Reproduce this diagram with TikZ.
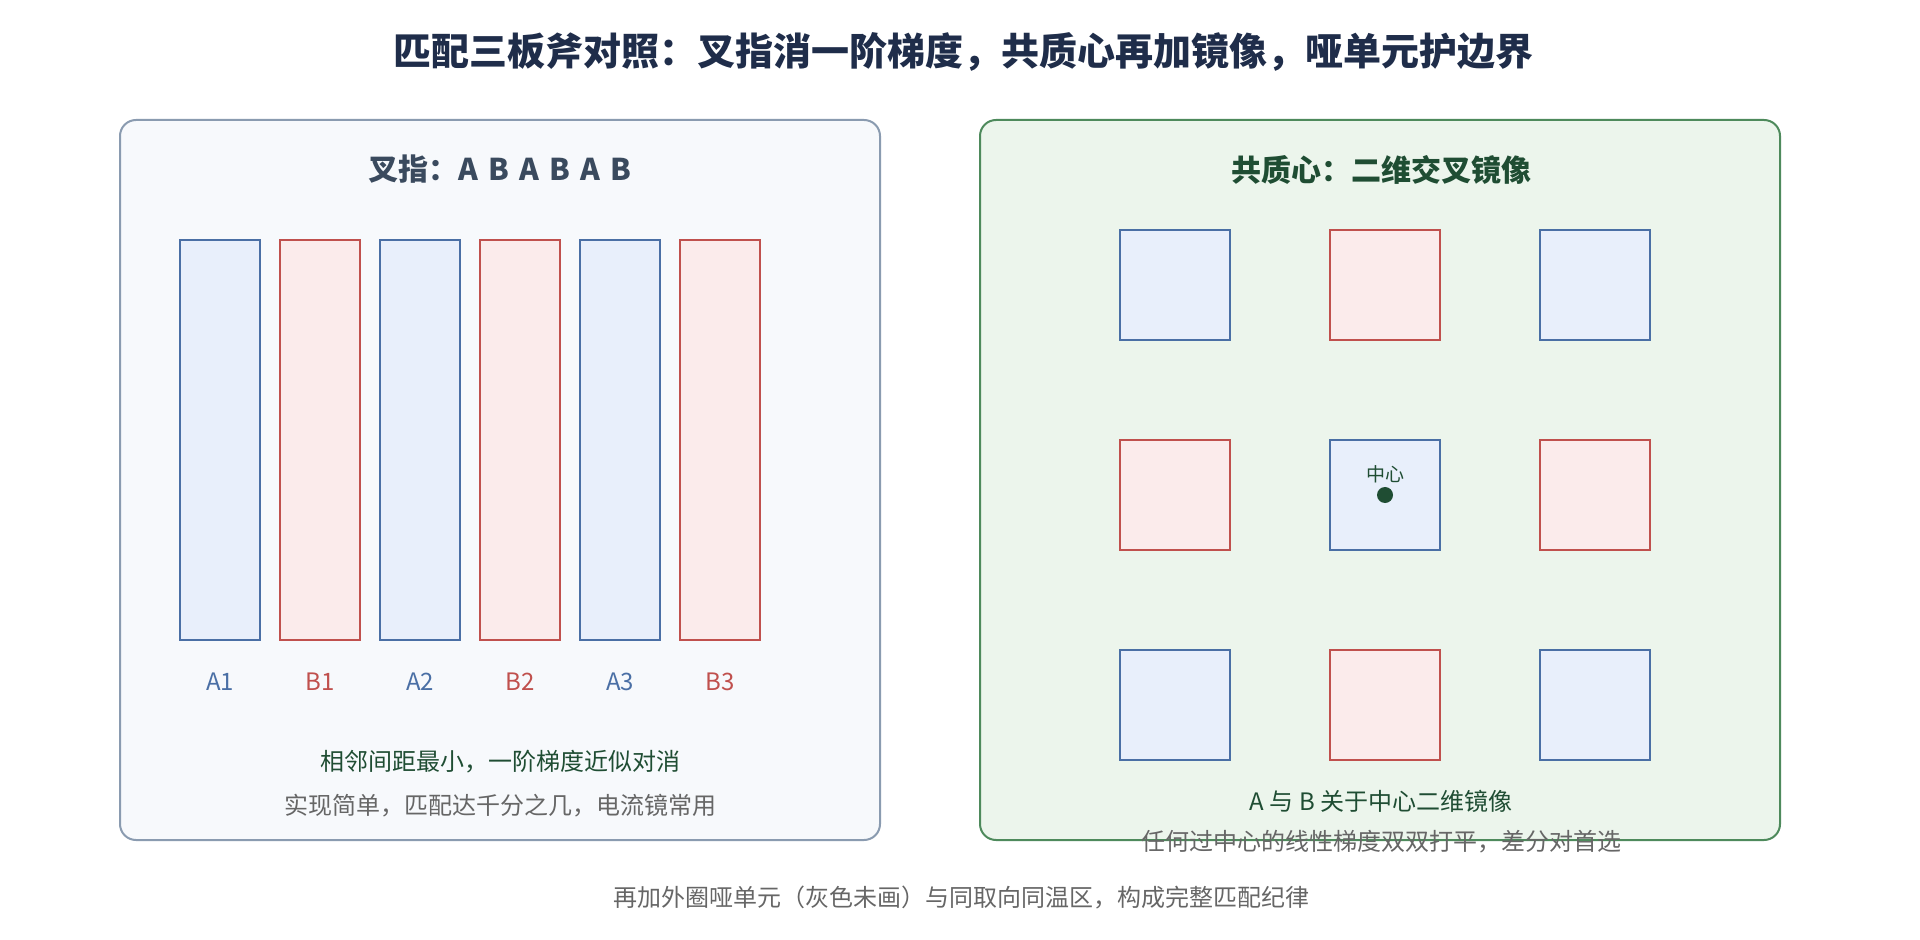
\documentclass[tikz,border=0pt]{standalone}
\usepackage{fontspec}
\setmainfont{Noto Sans CJK SC}
\usepackage{tikz}
\usetikzlibrary{positioning}
\definecolor{titleink}{HTML}{1F2D4A}
\definecolor{slateink}{HTML}{3A4A5E}
\definecolor{greenink}{HTML}{1F4D33}
\definecolor{greyink}{HTML}{666666}
\definecolor{lpline}{HTML}{8A9BB0}
\definecolor{lpfill}{HTML}{F7F9FC}
\definecolor{rpline}{HTML}{4E8A5C}
\definecolor{rpfill}{HTML}{ECF5EC}
\definecolor{aline}{HTML}{4A6FA5}
\definecolor{afill}{HTML}{E8EFFB}
\definecolor{bline}{HTML}{C0504D}
\definecolor{bfill}{HTML}{FBEBEB}

\begin{document}
\begin{tikzpicture}[
        x=0.5pt, y=-0.5pt,
        node distance=10pt,
        label distance=16.5pt,
        every node/.style={inner sep=0pt, outer sep=0pt},
        panel/.style={rounded corners=8pt, line width=1pt, minimum height=360pt},
        bar/.style={line width=1pt, minimum width=40pt, minimum height=200pt},
        pad/.style={line width=1pt, minimum size=55pt},
        adev/.style={draw=aline, fill=afill},
        bdev/.style={draw=bline, fill=bfill},
        alab/.style={text=aline, font=\fontsize{12}{14}\selectfont},
        blab/.style={text=bline, font=\fontsize{12}{14}\selectfont},
        greennote/.style={text=greenink, font=\fontsize{12}{14}\selectfont},
        greynote/.style={text=greyink, font=\fontsize{12}{14}\selectfont},
        dot/.style={circle, fill=greenink, minimum size=8pt}
    ]
    \useasboundingbox (0,0) rectangle (1920,940);

    \node[font=\fontsize{19}{22}\bfseries, text=titleink] (title) at (963,52)
        {匹配三板斧对照：叉指消一阶梯度，共质心再加镜像，哑单元护边界};

    % interdigitated
    \node[panel, draw=lpline, fill=lpfill, minimum width=380pt] (lpanel) at (500,480) {};
    \node[font=\fontsize{15}{18}\bfseries, text=slateink] (ltitle) at (500,169)
        {叉指：{\spaceskip=0.34em A B A B A B}};

    \node[bar, adev, label={[alab]below:A1}] (a1) at (220,440) {};
    \node[bar, bdev, right=of a1, label={[blab]below:B1}] (b1) {};
    \node[bar, adev, right=of b1, label={[alab]below:A2}] (a2) {};
    \node[bar, bdev, right=of a2, label={[blab]below:B2}] (b2) {};
    \node[bar, adev, right=of b2, label={[alab]below:A3}] (a3) {};
    \node[bar, bdev, right=of a3, label={[blab]below:B3}] (b3) {};

    \node[greennote] (lnote) at (500,762) {相邻间距最小，一阶梯度近似对消};
    \node[greynote] (lsub) at (500,806) {实现简单，匹配达千分之几，电流镜常用};

    % common centroid
    \node[panel, draw=rpline, fill=rpfill, minimum width=400pt] (rpanel) at (1380,480) {};
    \node[font=\fontsize{15}{18}\bfseries, text=greenink] (rtitle) at (1381,170)
        {共质心：二维交叉镜像};

    \node[pad, adev] (p11) at (1175,285) {};
    \node[pad, bdev, right=50pt of p11] (p12) {};
    \node[pad, adev, right=50pt of p12] (p13) {};
    \node[pad, bdev, below=50pt of p11] (p21) {};
    \node[pad, adev, right=50pt of p21] (p22) {};
    \node[pad, bdev, right=50pt of p22] (p23) {};
    \node[pad, adev, below=50pt of p21] (p31) {};
    \node[pad, bdev, right=50pt of p31] (p32) {};
    \node[pad, adev, right=50pt of p32] (p33) {};

    \node[dot] (ctr) at (p22.center) {};
    \node[text=greenink, font=\fontsize{9.5}{11}\selectfont, above=1.75pt of ctr] (ctrlab) {中心};

    \node[greennote] (rnote) at (1381,801) {A 与 B 关于中心二维镜像};
    \node[greynote] (rsub) at (1381,842) {任何过中心的线性梯度双双打平，差分对首选};

    \node[greynote] (foot) at (961,898) {再加外圈哑单元（灰色未画）与同取向同温区，构成完整匹配纪律};
\end{tikzpicture}
\end{document}
